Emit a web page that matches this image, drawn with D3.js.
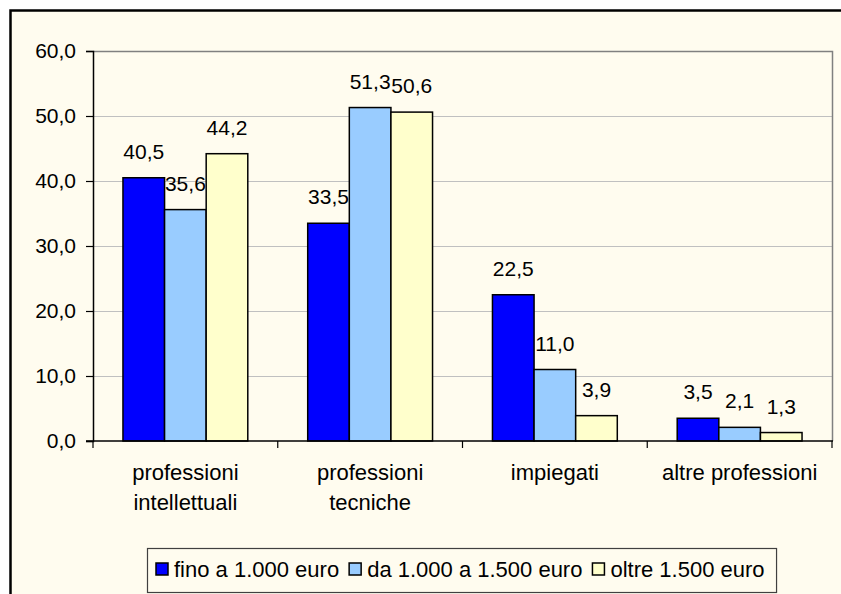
<!DOCTYPE html>
<meta charset="utf-8">
<style>
body { margin: 0; background: #fff; }
text { font-family: "Liberation Sans", Arial, sans-serif; fill: #000; }
</style>
<body>
<script src="https://d3js.org/d3.v7.min.js"></script>
<script>

var width = 841,
    height = 594;

// data
var categories = ["professioni intellettuali", "professioni tecniche", "impiegati", "altre professioni"];
var categoryLines = [["professioni", "intellettuali"], ["professioni", "tecniche"], ["impiegati"], ["altre professioni"]];
var series = ["fino a 1.000 euro", "da 1.000 a 1.500 euro", "oltre 1.500 euro"];
var fino1000 = [40.5, 33.5, 22.5, 3.5];
var da1000a1500 = [35.6, 51.3, 11.0, 2.1];
var oltre1500 = [44.2, 50.6, 3.9, 1.3];
var yTicks = [0, 10, 20, 30, 40, 50, 60];

var values = [fino1000, da1000a1500, oltre1500];
var colors = ["#0000FF", "#99CCFF", "#FFFFCC"];
var fmt = function(v) { return v.toFixed(1).replace(".", ","); };

var plot = { left: 93, top: 51, right: 832, bottom: 441 };

var svg = d3.select("body").append("svg")
    .attr("width", width)
    .attr("height", height)
    .style("display", "block");

// chart area background + outer frame (runs off the right and bottom edges)
svg.append("rect")
    .attr("x", 10.5).attr("y", 10.5)
    .attr("width", 860).attr("height", 620)
    .attr("fill", "#FFFCEF")
    .attr("stroke", "#000")
    .attr("stroke-width", 2.5);

var x0 = d3.scaleBand()
    .domain(categories)
    .range([plot.left, plot.right]);

var x1 = d3.scaleBand()
    .domain(series)
    .range([0, x0.bandwidth()])
    .paddingOuter(0.72);

var y = d3.scaleLinear()
    .domain([0, 60])
    .range([plot.bottom, plot.top]);

// gridlines
svg.append("g")
  .selectAll("line")
    .data(yTicks.filter(function(d) { return d > 0 && d < 60; }))
  .enter().append("line")
    .attr("x1", plot.left).attr("x2", plot.right)
    .attr("y1", function(d) { return y(d) + 0.5; })
    .attr("y2", function(d) { return y(d) + 0.5; })
    .attr("stroke", "#C0C0C0")
    .attr("stroke-width", 1);

// plot border top + right
svg.append("path")
    .attr("d", "M" + plot.left + "," + (plot.top + 0.5) + "H" + (plot.right + 0.5) + "V" + plot.bottom)
    .attr("fill", "none")
    .attr("stroke", "#808080")
    .attr("stroke-width", 1.5);

// bars
var groups = svg.append("g")
  .selectAll("g")
    .data(series)
  .enter().append("g")
    .attr("fill", function(d, i) { return colors[i]; });

groups.selectAll("rect")
    .data(function(s, i) { return values[i].map(function(v, j) { return { s: s, c: categories[j], v: v }; }); })
  .enter().append("rect")
    .attr("x", function(d) { return x0(d.c) + x1(d.s); })
    .attr("y", function(d) { return y(d.v); })
    .attr("width", x1.bandwidth())
    .attr("height", function(d) { return y(0) - y(d.v); })
    .attr("stroke", "#000")
    .attr("stroke-width", 1.5);

// value labels
groups.selectAll("text")
    .data(function(s, i) { return values[i].map(function(v, j) { return { s: s, c: categories[j], v: v }; }); })
  .enter().append("text")
    .attr("x", function(d) { return x0(d.c) + x1(d.s) + x1.bandwidth() / 2; })
    .attr("y", function(d) { return y(d.v) - 19; })
    .attr("text-anchor", "middle")
    .style("font-size", "21px")
    .style("fill", "#000")
    .text(function(d) { return fmt(d.v); });

// y axis
var yAxis = svg.append("g")
    .attr("transform", "translate(" + plot.left + ",0)")
    .call(d3.axisLeft(y).tickValues(yTicks).tickFormat(fmt).tickSize(7).tickPadding(10));
yAxis.select(".domain").attr("stroke", "#000").attr("stroke-width", 1.5);
yAxis.selectAll(".tick line").attr("stroke", "#000").attr("stroke-width", 1.2);
yAxis.selectAll(".tick text")
    .style("font-size", "21px")
    .style("font-family", "'Liberation Sans', Arial, sans-serif")
    .attr("fill", "#000");

// x axis line + boundary ticks
var xg = svg.append("g");
xg.append("line")
    .attr("x1", plot.left - 7).attr("x2", plot.right + 1)
    .attr("y1", plot.bottom).attr("y2", plot.bottom)
    .attr("stroke", "#000").attr("stroke-width", 1.5);
xg.selectAll(".bt")
    .data(categories.concat([null]))
  .enter().append("line")
    .attr("class", "bt")
    .attr("x1", function(d) { return d === null ? plot.right : x0(d); })
    .attr("x2", function(d) { return d === null ? plot.right : x0(d); })
    .attr("y1", plot.bottom).attr("y2", plot.bottom + 7)
    .attr("stroke", "#000").attr("stroke-width", 1.2);

// category labels
var cl = xg.selectAll(".cat")
    .data(categories)
  .enter().append("text")
    .attr("class", "cat")
    .attr("text-anchor", "middle")
    .style("font-size", "22px");
cl.selectAll("tspan")
    .data(function(d, i) { return categoryLines[i].map(function(t) { return { t: t, c: d }; }); })
  .enter().append("tspan")
    .attr("x", function(d) { return x0(d.c) + x0.bandwidth() / 2; })
    .attr("y", function(d, i) { return 480 + i * 30; })
    .text(function(d) { return d.t; });

// legend
var legend = svg.append("g");
var legendBox = legend.append("rect")
    .attr("y", 548.5)
    .attr("height", 44)
    .attr("fill", "#FFFCEF")
    .attr("stroke", "#404040")
    .attr("stroke-width", 1.2);

var lx = 156;
series.forEach(function(s, i) {
  legend.append("rect")
      .attr("x", lx).attr("y", 563)
      .attr("width", 12).attr("height", 12)
      .attr("fill", colors[i])
      .attr("stroke", "#000")
      .attr("stroke-width", 1.5);
  var t = legend.append("text")
      .attr("x", lx + 18)
      .attr("y", 577)
      .style("font-size", "22px")
      .text(s);
  lx += 18 + t.node().getComputedTextLength() + 10;
});
legendBox.attr("x", 147.5).attr("width", lx - 147.5 + 2);

</script>
